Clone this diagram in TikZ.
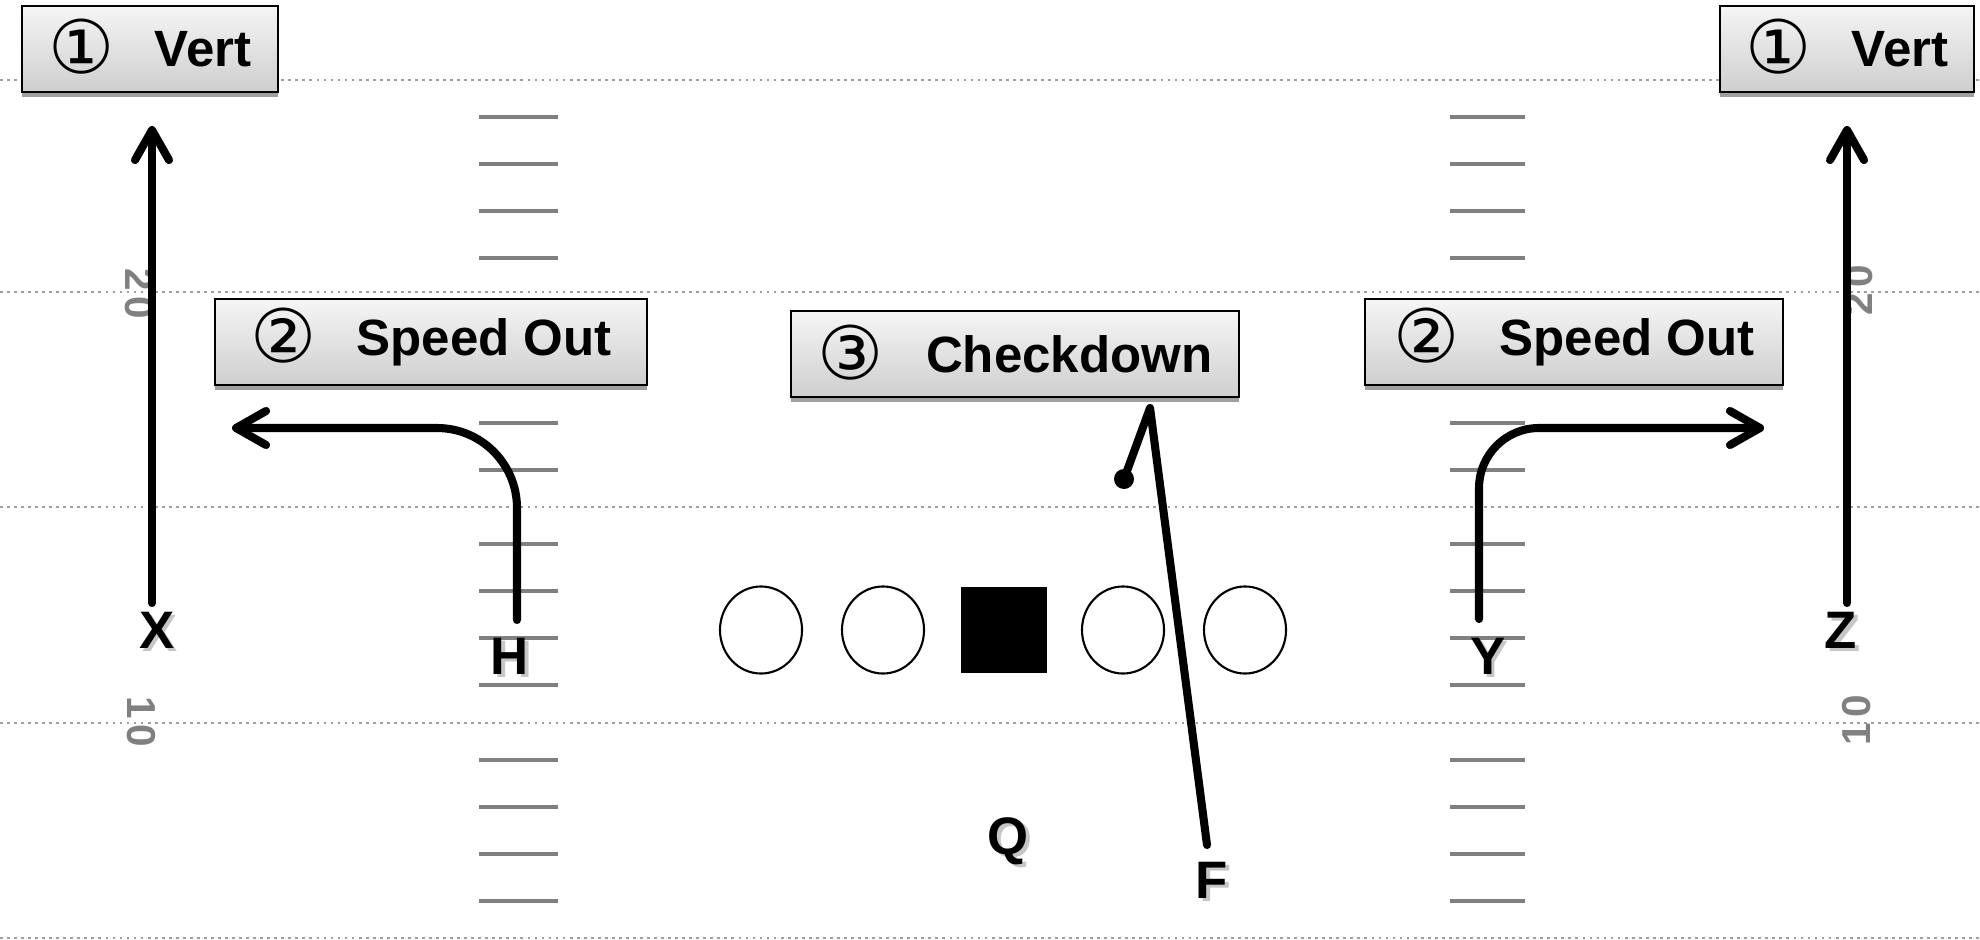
\documentclass[tikz,border=0pt]{standalone}
\usepackage{fontspec}
\setmainfont{Liberation Sans}
\newfontfamily\circfont{DejaVu Sans}
\usetikzlibrary{arrows.meta, shapes.geometric, shadows}

\newcommand{\shd}[1]{\rlap{\hspace{0.035cm}\raisebox{-0.035cm}{\color{gray!45}#1}}#1}
\newcommand{\cnum}[1]{\smash{\raisebox{-0.07cm}{\circfont\mdseries\fontsize{21}{21}\selectfont #1}}}

\begin{document}
\begin{tikzpicture}[x=0.01cm, y=-0.01cm]
    \tikzset{
      yardline/.style={gray!75, line width=0.5pt, dash pattern=on 0.8pt off 1.2pt},
      hashmark/.style={gray, line width=1.1pt},
      yardnum/.style={text=gray, font=\bfseries\fontsize{11.5}{11.5}\selectfont, inner sep=0pt},
      callout/.style={rectangle, draw=black, line width=0.6pt,
                      top color=gray!8, bottom color=gray!38,
                      minimum height=0.86cm, inner sep=0pt,
                      font=\bfseries\fontsize{14.5}{16}\selectfont,
                      drop shadow={shadow xshift=0pt, shadow yshift=-0.05cm, fill=gray!75, opacity=1}},
      player/.style={font=\bfseries\fontsize{15}{15}\selectfont, inner sep=0pt},
      lineman/.style={ellipse, draw, line width=0.6pt, minimum width=0.82cm, minimum height=0.87cm},
      snapper/.style={rectangle, fill=black, minimum width=0.85cm, minimum height=0.86cm},
      route/.style={line width=2.3pt, line join=round, line cap=round},
      routearrow/.style={route, -{Straight Barb[length=0.3cm, width=0.34cm, round]}}}
    \useasboundingbox (0,0) rectangle (1980,940);
    \foreach \ly in {80,292,507,723,938}
      \draw[yardline] (0,\ly) -- (1980,\ly);
    \foreach \ly in {80,292,507,723}
      \foreach \dy in {37,84,131,178} {
        \draw[hashmark] (479,\ly+\dy) -- (558,\ly+\dy);
        \draw[hashmark] (1450,\ly+\dy) -- (1525,\ly+\dy);
      }
    \node[yardnum, rotate=-90] (ltwenty) at (139,294) {2\hspace{0.06cm}0};
    \node[yardnum, rotate=-90] (lten)    at (141,722) {1\hspace{0.06cm}0};
    \node[yardnum, rotate=90]  (rtwenty) at (1859,290) {2\hspace{0.06cm}0};
    \node[yardnum, rotate=90]  (rten)    at (1857,720) {1\hspace{0.06cm}0};
    \node[callout, minimum width=2.55cm] (vertl) at (150,49)  {\cnum{①}\hspace{0.4cm}Vert};
    \node[callout, minimum width=2.54cm] (vertr) at (1847,49) {\cnum{①}\hspace{0.4cm}Vert};
    \node[callout, minimum width=4.32cm] (outl) at (431,342)  {\cnum{②}\hspace{0.4cm}Speed Out};
    \node[callout, minimum width=4.48cm] (check) at (1015,354) {\cnum{③}\hspace{0.42cm}Checkdown};
    \node[callout, minimum width=4.17cm] (outr) at (1574,342) {\cnum{②}\hspace{0.4cm}Speed Out};
    \node[lineman] (ltackle) at (761,630) {};
    \node[lineman] (lguard)  at (883,630) {};
    \node[snapper] (cen)     at (1004,630) {};
    \node[lineman] (rguard)  at (1123,630) {};
    \node[lineman] (rtackle) at (1245,630) {};
    \node[player] (X) at (157,632)  {\shd{X}};
    \node[player] (H) at (510,658)  {\shd{H}};
    \node[player] (Y) at (1488,658) {\shd{Y}};
    \node[player] (Z) at (1841,632) {\shd{Z}};
    \node[player] (Q) at (1008,843) {\shd{Q}};
    \node[player] (F) at (1212,882) {\shd{F}};
    \coordinate (xfoot) at (152,603);  \coordinate (xtip) at (152,126);
    \coordinate (zfoot) at (1847,603); \coordinate (ztip) at (1847,126);
    \coordinate (hfoot) at (517,620);  \coordinate (hbend) at (517,428);  \coordinate (htip) at (232,428);
    \coordinate (yfoot) at (1479,619); \coordinate (ybend) at (1479,428); \coordinate (ytip) at (1764,428);
    \coordinate (ffoot) at (1207,845); \coordinate (fturn) at (1150,408); \coordinate (fend) at (1124,479);
    \draw[routearrow] (xfoot) -- (xtip);
    \draw[routearrow] (zfoot) -- (ztip);
    \draw[routearrow, rounded corners=0.8cm] (hfoot) -- (hbend) -- (htip);
    \draw[routearrow, rounded corners=0.6cm] (yfoot) -- (ybend) -- (ytip);
    \draw[route] (ffoot) -- (fturn) -- (fend);
    \fill (fend) circle[radius=10];
  \end{tikzpicture}
\end{document}
